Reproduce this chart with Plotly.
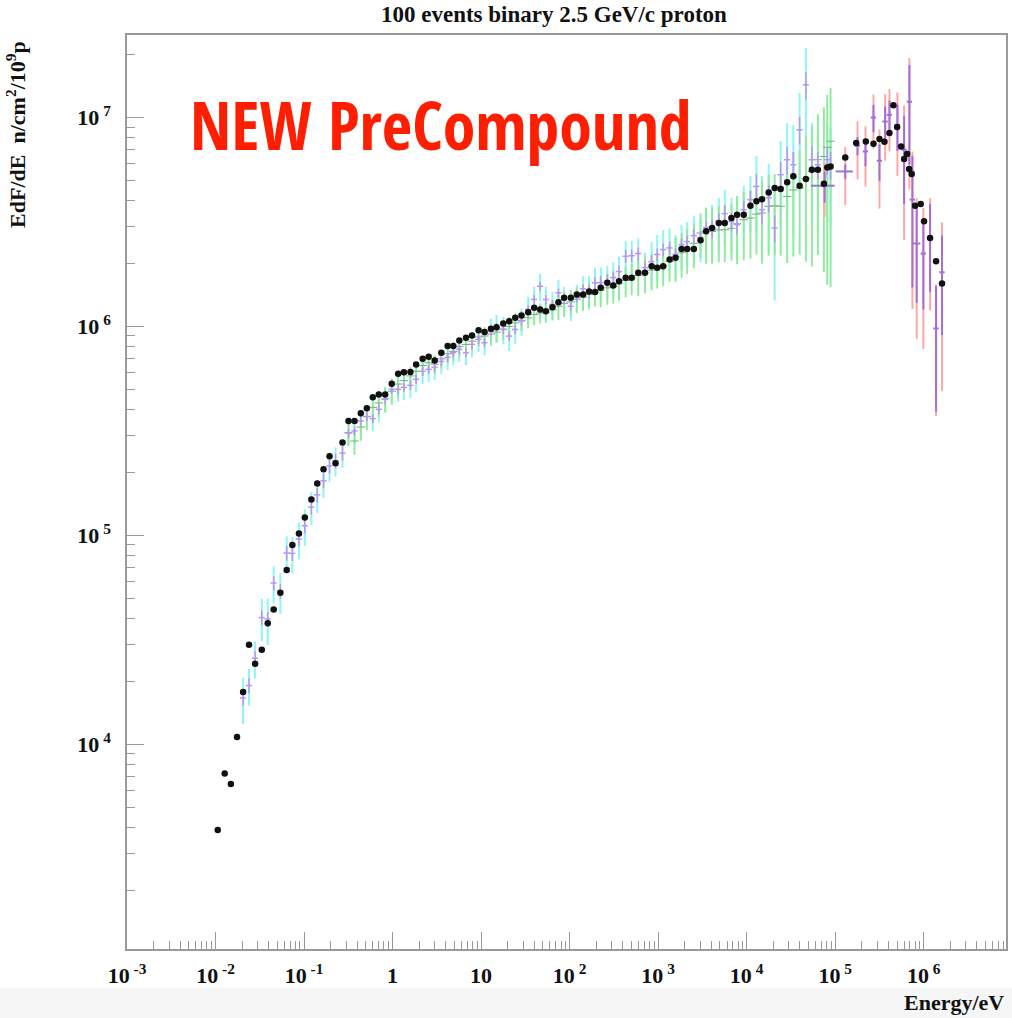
import plotly.graph_objects as go

TITLE = "100 events binary 2.5 GeV/c proton"
X_TITLE = "Energy/eV"
Y_TITLE = "EdF/dE  n/cm<sup>2</sup>/10<sup>9</sup>p"
STAMP = "NEW PreCompound"

X_TICK_VALUES = [1e-3, 1e-2, 1e-1, 1, 10, 1e2, 1e3, 1e4, 1e5, 1e6]
X_TICK_LABELS = ["10<sup> -3</sup>", "10<sup> -2</sup>", "10<sup> -1</sup>", "1", "10",
                 "10<sup> 2</sup>", "10<sup> 3</sup>", "10<sup> 4</sup>", "10<sup> 5</sup>", "10<sup> 6</sup>"]
Y_TICK_VALUES = [1e4, 1e5, 1e6, 1e7]
Y_TICK_LABELS = ["10<sup> 4</sup>", "10<sup> 5</sup>", "10<sup> 6</sup>", "10<sup> 7</sup>"]

# ---- black markers (main histogram) ----
black_energy = [
    1.06e-2, 1.27e-2, 1.49e-2, 1.75e-2, 2.05e-2, 2.39e-2, 2.80e-2, 3.33e-2, 3.89e-2, 4.54e-2,
    5.40e-2, 6.37e-2, 7.38e-2, 8.76e-2, 0.102, 0.121, 0.141, 0.166, 0.194, 0.227,
    0.272, 0.318, 0.372, 0.438, 0.512, 0.598, 0.699, 0.825, 0.979, 1.157,
    1.344, 1.591, 1.845, 2.19, 2.559, 2.991, 3.558, 4.191, 4.86, 5.678,
    6.756, 7.896, 9.372, 10.95, 12.93, 14.95, 17.8, 20.79, 24.3, 28.61,
    34.05, 39.79, 46.49, 53.9, 64.0, 74.8, 86.7, 103.2, 120.6, 142.0,
    165.9, 193.9, 224.7, 266.8, 311.8, 361.5, 430.1, 502.8, 596.5, 710,
    844.6, 977, 1141, 1348, 1575, 1841, 2129, 2533, 3015, 3486,
    4073, 4848, 5663, 6739, 7796, 9276, 11040, 12900, 14910, 17750,
    20740, 24240, 28690, 33700, 39690, 46730, 54610, 63830, 74590, 81460,
    88740, 1.30e5, 1.729e5, 2.219e5, 2.71e5, 3.167e5, 3.606e5, 4.106e5, 4.553e5, 5.013e5,
    5.562e5, 6.012e5, 6.498e5, 6.845e5, 7.321e5, 7.998e5, 9.25e5, 1.010e6, 1.181e6, 1.380e6,
    1.612e6,
]
black_flux = [
    3887, 7236, 6461, 1.084e4, 1.778e4, 2.991e4, 2.428e4, 2.831e4, 3.798e4, 4.412e4,
    5.319e4, 6.827e4, 8.99e4, 1.022e5, 1.219e5, 1.486e5, 1.773e5, 2.074e5, 2.393e5, 2.215e5,
    2.782e5, 3.528e5, 3.528e5, 3.84e5, 4.057e5, 4.58e5, 4.718e5, 4.718e5, 5.322e5, 5.943e5,
    6.028e5, 6.049e5, 6.582e5, 7.008e5, 7.164e5, 6.879e5, 7.487e5, 8.051e5, 8.051e5, 8.574e5,
    8.831e5, 9.057e5, 9.601e5, 9.393e5, 9.75e5, 9.924e5, 1.033e6, 1.06e6, 1.101e6, 1.129e6,
    1.17e6, 1.228e6, 1.206e6, 1.183e6, 1.236e6, 1.307e6, 1.371e6, 1.371e6, 1.422e6, 1.422e6,
    1.47e6, 1.462e6, 1.531e6, 1.617e6, 1.57e6, 1.646e6, 1.709e6, 1.709e6, 1.805e6, 1.805e6,
    1.942e6, 1.908e6, 1.942e6, 2.09e6, 2.13e6, 2.351e6, 2.351e6, 2.351e6, 2.585e6, 2.853e6,
    2.962e6, 3.13e6, 3.13e6, 3.306e6, 3.428e6, 3.428e6, 3.785e6, 3.969e6, 4.066e6, 4.382e6,
    4.599e6, 4.549e6, 4.902e6, 5.237e6, 4.717e6, 5.078e6, 5.625e6, 5.625e6, 4.822e6, 5.769e6,
    5.833e6, 6.441e6, 7.545e6, 7.679e6, 7.487e6, 7.885e6, 7.654e6, 8.424e6, 1.146e7, 8.997e6,
    7.268e6, 6.328e6, 6.686e6, 5.669e6, 5.365e6, 3.785e6, 3.857e6, 3.185e6, 2.654e6, 2.051e6,
    1.605e6,
]

# ---- violet crosses with cyan (outer) error bars ----
violet_energy = [
    2.05e-2, 2.39e-2, 2.80e-2, 3.33e-2, 3.89e-2, 4.54e-2, 5.40e-2, 6.37e-2, 7.38e-2, 8.76e-2,
    0.102, 0.121, 0.141, 0.166, 0.194, 0.227, 0.272,
    0.318, 0.372, 0.438, 0.512, 0.598, 0.699, 0.825, 0.979, 1.157, 1.344, 1.591, 1.845,
    2.19, 2.559, 2.991, 3.558, 4.191, 4.86, 5.678, 6.756, 7.896, 9.372, 10.95,
    12.93, 14.95, 17.8, 20.79, 24.3, 28.61, 34.05, 39.79, 46.49, 53.9, 64.0, 74.8, 86.7,
    103.2, 120.6, 142.0,
    165.9, 193.9, 224.7, 266.8, 311.8, 361.5, 430.1, 502.8, 596.5, 710,
    844.6, 977, 1141, 1348, 1575, 1841, 2129, 2533, 3015, 3486,
    4073, 4848, 5663, 6739, 7796, 9276, 11040,
    12900, 14910, 17750, 20740, 24240, 28690, 33700, 39690, 46730, 54610, 63830,
    81460, 88740,
]
violet_flux = [
    1.664e4, 1.912e4, 2.584e4, 4.04e4, 3.98e4, 5.917e4, 5.4e4, 8.23e4, 8.2e4, 9.6e4,
    1.112e5, 1.365e5, 1.563e5, 1.824e5, 2.15e5, 2.272e5, 2.473e5,
    3.083e5, 3.16e5, 3.528e5, 3.703e5, 3.62e5, 4.012e5, 4.479e5, 5.0e5, 5.0e5, 5.11e5, 5.225e5, 5.58e5,
    6.1e5, 6.23e5, 6.37e5, 6.8e5, 7.11e5, 7.49e5, 7.78e5, 7.49e5, 8.21e5, 8.67e5, 8.36e5,
    9.47e5, 9.89e5, 9.67e5, 8.99e5, 9.67e5, 1.06e6, 1.206e6, 1.346e6, 1.557e6, 1.346e6, 1.274e6, 1.449e6, 1.346e6,
    1.25e6, 1.376e6, 1.514e6,
    1.47e6, 1.617e6, 1.62e6, 1.65e6, 1.714e6, 1.831e6, 2.167e6, 2.18e6, 2.233e6, 1.913e6,
    2.044e6, 2.208e6, 2.333e6, 2.377e6, 2.21e6, 2.465e6, 2.548e6, 2.721e6, 2.67e6, 2.972e6,
    2.94e6, 3.175e6, 3.466e6, 3.175e6, 3.072e6, 3.622e6, 4.044e6,
    4.68e6, 3.622e6, 4.133e6, 2.962e6, 5.323e6, 6.28e6, 5.943e6, 8.736e6, 1.433e7, 6.28e6, 5.94e6,
    6.28e6, 5.94e6,
]
violet_rel_err_inner = [
    0.08, 0.08, 0.08, 0.08, 0.08, 0.08, 0.08, 0.08, 0.08, 0.08,
    0.08, 0.08, 0.08, 0.08, 0.08, 0.08, 0.08,
    0.05, 0.05, 0.05, 0.05, 0.05, 0.05, 0.05, 0.05, 0.05, 0.05, 0.05, 0.05,
    0.05, 0.05, 0.05, 0.05, 0.05, 0.05, 0.05, 0.05, 0.05, 0.05, 0.05,
    0.05, 0.05, 0.05, 0.05, 0.05, 0.05, 0.05, 0.05, 0.05, 0.05, 0.05, 0.05, 0.05,
    0.05, 0.05, 0.05,
    0.07, 0.07, 0.07, 0.07, 0.07, 0.07, 0.07, 0.07, 0.07, 0.07,
    0.07, 0.07, 0.07, 0.07, 0.07, 0.07, 0.07, 0.07, 0.07, 0.07,
    0.10, 0.10, 0.10, 0.10, 0.10, 0.10, 0.10,
    0.15, 0.15, 0.15, 0.15, 0.15, 0.15, 0.15, 0.15, 0.15, 0.15, 0.15,
    0.15, 0.15,
]
violet_rel_err_outer = [
    0.25, 0.20, 0.20, 0.23, 0.25, 0.20, 0.22, 0.20, 0.20, 0.20,
    0.20, 0.18, 0.18, 0.17, 0.16, 0.16, 0.15,
    0.13, 0.13, 0.13, 0.13, 0.13, 0.13, 0.13, 0.13, 0.13, 0.13, 0.13, 0.13,
    0.13, 0.13, 0.13, 0.13, 0.13, 0.13, 0.13, 0.13, 0.13, 0.13, 0.13,
    0.15, 0.15, 0.15, 0.15, 0.15, 0.15, 0.15, 0.15, 0.15, 0.15, 0.15, 0.15, 0.15,
    0.15, 0.15, 0.15,
    0.18, 0.18, 0.18, 0.18, 0.18, 0.18, 0.18, 0.18, 0.18, 0.18,
    0.24, 0.24, 0.24, 0.24, 0.24, 0.24, 0.24, 0.24, 0.24, 0.24,
    0.30, 0.30, 0.30, 0.30, 0.30, 0.30, 0.30,
    0.40, 0.45, 0.45, 0.55, 0.45, 0.50, 0.55, 0.50, 0.50, 0.50, 0.50,
    0.50, 0.50,
]

# ---- green crosses with green error bars ----
green_energy = [
    0.318, 0.372, 0.438, 0.512, 0.598, 0.699, 0.825, 0.979, 1.157, 1.344, 1.591, 1.845,
    2.19, 2.559, 2.991, 3.558, 4.191, 4.86, 5.678, 6.756, 7.896, 9.372, 10.95,
    12.93, 14.95, 17.8, 20.79, 24.3, 28.61, 34.05, 39.79, 46.49, 53.9, 64.0, 74.8, 86.7,
    103.2, 120.6, 142.0,
    165.9, 193.9, 224.7, 266.8, 311.8, 361.5, 430.1, 502.8, 596.5, 710,
    844.6, 977, 1141, 1348, 1575, 1841, 2129, 2533, 3015, 3486,
    4073, 4848, 5663, 6739, 7796, 9276, 11040,
    12900, 14910, 17750, 20740, 24240, 28690, 33700, 39690, 46730, 54610, 63830,
    74590, 81460, 88740,
]
green_flux = [
    3.1e5, 2.83e5, 3.3e5, 3.7e5, 4.1e5, 4.3e5, 4.5e5, 4.9e5, 5.3e5, 5.5e5, 5.8e5, 6.1e5,
    6.5e5, 6.7e5, 6.6e5, 7.0e5, 7.4e5, 7.6e5, 8.0e5, 8.2e5, 8.5e5, 8.9e5, 9.0e5,
    9.2e5, 9.4e5, 9.7e5, 1.0e6, 1.04e6, 1.07e6, 1.1e6, 1.14e6, 1.16e6, 1.17e6, 1.2e6, 1.25e6, 1.29e6,
    1.31e6, 1.35e6, 1.38e6,
    1.42e6, 1.45e6, 1.49e6, 1.53e6, 1.55e6, 1.6e6, 1.66e6, 1.7e6, 1.75e6, 1.8e6,
    1.86e6, 1.9e6, 1.95e6, 2.05e6, 2.15e6, 2.25e6, 2.35e6, 2.5e6, 2.8e6, 2.85e6,
    2.85e6, 2.9e6, 2.9e6, 2.95e6, 3.1e6, 3.24e6, 3.3e6,
    3.45e6, 3.49e6, 3.76e6, 3.78e6, 3.76e6, 4.19e6, 4.5e6, 4.6e6, 5.1e6, 5.52e6, 6.28e6,
    6.51e6, 7.2e6, 7.7e6,
]
green_rel_err = [
    0.14, 0.14, 0.14, 0.14, 0.14, 0.14, 0.14, 0.14, 0.14, 0.10, 0.10, 0.10,
    0.10, 0.10, 0.10, 0.10, 0.10, 0.10, 0.10, 0.10, 0.10, 0.10, 0.10,
    0.11, 0.11, 0.11, 0.11, 0.11, 0.11, 0.11, 0.11, 0.11, 0.11, 0.11, 0.14, 0.14,
    0.14, 0.14, 0.14,
    0.14, 0.14, 0.17, 0.17, 0.17, 0.17, 0.17, 0.17, 0.20, 0.20,
    0.20, 0.20, 0.20, 0.20, 0.24, 0.24, 0.24, 0.24, 0.24, 0.30,
    0.30, 0.30, 0.30, 0.30, 0.36, 0.36, 0.36,
    0.36, 0.42, 0.42, 0.42, 0.42, 0.52, 0.52, 0.52, 0.60, 0.65, 0.65,
    0.72, 0.78, 0.80,
]

# ---- high-energy purple crosses with pink (outer) error bars ----
high_energy = [7.6e4, 1.30e5, 1.789e5, 2.202e5, 2.71e5, 3.167e5, 3.671e5, 4.106e5, 5.052e5,
               6.01e5, 6.9e5, 7.458e5, 8.339e5, 9.92e5, 1.181e6, 1.38e6, 1.612e6]
high_flux = [4.717e6, 5.52e6, 7.325e6, 6.88e6, 1.0e7, 6.212e6, 9.572e6, 1.03e7, 9.218e6,
             7.01e6, 1.19e7, 4.044e6, 2.493e6, 2.233e6, 2.654e6, 9.78e5, 1.817e6]
high_rel_err_inner = [0.17, 0.08, 0.10, 0.15, 0.15, 0.20, 0.18, 0.17, 0.25,
                      0.45, 0.50, 0.62, 0.48, 0.46, 0.45, 0.60, 0.50]
high_rel_err_outer = [0.29, 0.31, 0.31, 0.32, 0.29, 0.41, 0.35, 0.33, 0.43,
                      0.63, 0.62, 0.70, 0.65, 0.65, 0.55, 0.62, 0.73]
high_rel_xerr = [0.30, 0.22, 0.07, 0.07, 0.07, 0.07, 0.07, 0.07, 0.07,
                 0.07, 0.07, 0.07, 0.10, 0.07, 0.07, 0.07, 0.07]


def abs_err(values, rel):
    return [v * r for v, r in zip(values, rel)]


SERIF = "Liberation Serif, Times New Roman, serif"
STAMP_FONT = ("Open Sans Condensed, Noto Sans ExtraCondensed, Noto Sans Condensed, "
              "Liberation Sans Narrow, DejaVu Sans Condensed, Liberation Sans, sans-serif")
FRAME = "#9a9a9a"
CYAN = "#8ef5f5"
VIOLET = "#b894f4"
GREEN = "#8fec9f"
PINK = "#ffa8a8"
PURPLE = "#a36fd6"
INVISIBLE = dict(size=1, color="rgba(0,0,0,0)")

fig = go.Figure()

fig.add_trace(go.Scatter(
    x=violet_energy, y=violet_flux, mode="markers", marker=INVISIBLE,
    error_y=dict(type="data", array=abs_err(violet_flux, violet_rel_err_outer),
                 color=CYAN, thickness=2, width=0),
    showlegend=False, hoverinfo="skip"))
fig.add_trace(go.Scatter(
    x=green_energy, y=green_flux, mode="markers",
    marker=dict(symbol="line-ew", size=6, line=dict(width=1, color="#7fa386")),
    error_y=dict(type="data", array=abs_err(green_flux, green_rel_err),
                 color=GREEN, thickness=2, width=0),
    showlegend=False, hoverinfo="skip"))
fig.add_trace(go.Scatter(
    x=high_energy, y=high_flux, mode="markers", marker=INVISIBLE,
    error_y=dict(type="data", array=abs_err(high_flux, high_rel_err_outer),
                 color=PINK, thickness=2, width=0),
    showlegend=False, hoverinfo="skip"))
fig.add_trace(go.Scatter(
    x=violet_energy, y=violet_flux, mode="markers", marker=INVISIBLE,
    error_y=dict(type="data", array=abs_err(violet_flux, violet_rel_err_inner),
                 color=VIOLET, thickness=1.5, width=0),
    error_x=dict(type="percent", value=8, color=VIOLET, thickness=1.5, width=0),
    showlegend=False, hoverinfo="skip"))
fig.add_trace(go.Scatter(
    x=high_energy, y=high_flux, mode="markers", marker=INVISIBLE,
    error_y=dict(type="data", array=abs_err(high_flux, high_rel_err_inner),
                 color=PURPLE, thickness=2, width=0),
    error_x=dict(type="data", array=abs_err(high_energy, high_rel_xerr),
                 color=PURPLE, thickness=2, width=0),
    showlegend=False, hoverinfo="skip"))
fig.add_trace(go.Scatter(
    x=black_energy, y=black_flux, mode="markers",
    marker=dict(symbol="circle", size=6.5, color="#111111"),
    showlegend=False, hoverinfo="skip"))

axis_common = dict(
    type="log", showgrid=False, zeroline=False,
    showline=True, linecolor=FRAME, linewidth=1.5, mirror=True,
    ticks="inside", ticklen=17, tickwidth=1, tickcolor=FRAME,
    minor=dict(ticks="inside", ticklen=8, tickwidth=1, tickcolor=FRAME, dtick="D1", showgrid=False),
    tickfont=dict(family=SERIF, size=22, color="#111111", weight="bold"),
)

fig.update_layout(
    width=1012, height=1018,
    margin=dict(l=127, r=4, t=35, b=69),
    paper_bgcolor="white", plot_bgcolor="white",
    xaxis=dict(range=[-3, 6.93], tickvals=X_TICK_VALUES, ticktext=X_TICK_LABELS,
               ticklabelstandoff=6, **axis_common),
    yaxis=dict(range=[3.02, 7.395], tickvals=Y_TICK_VALUES, ticktext=Y_TICK_LABELS,
               ticklabelstandoff=10, **axis_common),
    shapes=[dict(type="rect", xref="paper", yref="paper", x0=-0.2, x1=1.01,
                 y0=-0.0427, y1=-0.08, fillcolor="#f6f6f6", line=dict(width=0), layer="below")],
    annotations=[
        dict(text="<b>" + TITLE + "</b>", xref="paper", yref="paper", x=0.486, y=1.0219,
             xanchor="center", yanchor="middle", showarrow=False,
             font=dict(family=SERIF, size=23, color="#111111")),
        dict(text="<b>" + Y_TITLE + "</b>", xref="paper", yref="paper", x=-0.127, y=0.9956,
             xanchor="center", yanchor="top", textangle=-90, showarrow=False,
             font=dict(family=SERIF, size=22, color="#111111")),
        dict(text="<b>" + X_TITLE + "</b>", xref="paper", yref="paper", x=1.0, y=-0.059,
             xanchor="right", yanchor="middle", showarrow=False,
             font=dict(family=SERIF, size=22, color="#111111")),
        dict(text="<b>" + STAMP + "</b>", xref="paper", yref="paper", x=0.069, y=0.9026,
             xanchor="left", yanchor="middle", showarrow=False,
             font=dict(family=STAMP_FONT, size=66, color="#ff1e00")),
    ],
)

fig.write_html("out.html", config={"displayModeBar": False},
               post_script="document.body.style.margin='0px';")
